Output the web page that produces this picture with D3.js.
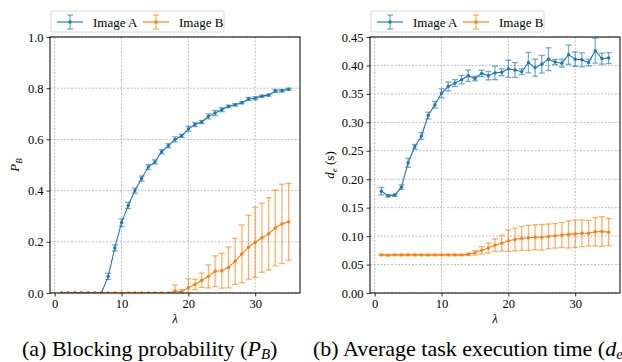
<!DOCTYPE html>
<html lang="en">
<head>
<meta charset="UTF-8">
<title>Blocking probability and task execution time</title>
<script src="https://d3js.org/d3.v7.min.js"></script>
<style>
  body { margin: 0; background: #fff; }
  svg, svg text { font-family: "Liberation Serif", "Times New Roman", Times, "DejaVu Serif", serif; }
</style>
</head>
<body>
<svg width="622" height="362"></svg>
<script>
// lambda values shared by both panels
const lambda = [1, 2, 3, 4, 5, 6, 7, 8, 9, 10, 11, 12, 13, 14, 15, 16, 17, 18,
                19, 20, 21, 22, 23, 24, 25, 26, 27, 28, 29, 30, 31, 32, 33, 34, 35]

// (a) blocking probability
const pbA = [0, 0, 0, 0, 0, 0, 0, 0.065, 0.176, 0.275, 0.342, 0.40, 0.447, 0.492, 0.512, 0.552, 0.575, 0.600,
             0.614, 0.641, 0.658, 0.668, 0.690, 0.703, 0.716, 0.729, 0.735, 0.743, 0.758, 0.761, 0.769, 0.773, 0.789, 0.790, 0.796]
const pbAErr = [0, 0, 0, 0, 0, 0, 0, 0.012, 0.012, 0.015, 0.012, 0.010, 0.010, 0.010, 0.008, 0.008, 0.008, 0.010,
                0.006, 0.010, 0.008, 0.006, 0.010, 0.010, 0.008, 0.005, 0.005, 0.004, 0.006, 0.006, 0.004, 0.004, 0.006, 0.005, 0.004]
const pbB = [0, 0, 0, 0, 0, 0, 0, 0, 0, 0, 0, 0, 0, 0, 0, 0, 0, 0.008,
             0.005, 0.021, 0.033, 0.050, 0.065, 0.085, 0.087, 0.100, 0.124, 0.153, 0.179, 0.198, 0.216, 0.231, 0.254, 0.270, 0.278]
const pbBErr = [0, 0, 0, 0, 0, 0, 0, 0, 0, 0, 0, 0, 0, 0, 0, 0, 0, 0.023,
                0.008, 0.035, 0.020, 0.028, 0.045, 0.060, 0.068, 0.080, 0.090, 0.113, 0.125, 0.137, 0.135, 0.141, 0.148, 0.155, 0.150]

// (b) average task execution time (s)
const deA = [0.179, 0.171, 0.172, 0.186, 0.229, 0.257, 0.276, 0.312, 0.331, 0.351, 0.363, 0.369, 0.375, 0.382, 0.377, 0.386, 0.382, 0.387,
             0.388, 0.394, 0.392, 0.389, 0.405, 0.396, 0.402, 0.411, 0.406, 0.404, 0.419, 0.411, 0.410, 0.405, 0.426, 0.412, 0.413]
const deAErr = [0.0065, 0.002, 0.002, 0.004, 0.008, 0.004, 0.006, 0.006, 0.006, 0.008, 0.008, 0.006, 0.0074, 0.010, 0.004, 0.0056, 0.0074, 0.012,
                0.006, 0.015, 0.013, 0.005, 0.018, 0.015, 0.0155, 0.020, 0.0045, 0.007, 0.017, 0.0126, 0.0124, 0.006, 0.022, 0.0097, 0.0097]
const deB = [0.067, 0.0665, 0.067, 0.067, 0.067, 0.067, 0.067, 0.067, 0.067, 0.067, 0.067, 0.067, 0.067, 0.068, 0.0706, 0.075, 0.079, 0.084,
             0.0876, 0.092, 0.094, 0.096, 0.097, 0.098, 0.098, 0.0995, 0.1005, 0.102, 0.103, 0.104, 0.105, 0.105, 0.1076, 0.108, 0.107]
const deBErr = [0.001, 0.001, 0.001, 0.001, 0.001, 0.001, 0.001, 0.001, 0.001, 0.001, 0.001, 0.001, 0.001, 0.002, 0.0038, 0.0065, 0.0088, 0.011,
                0.0138, 0.0188, 0.020, 0.021, 0.022, 0.022, 0.0224, 0.0218, 0.0215, 0.022, 0.0238, 0.024, 0.0235, 0.0226, 0.025, 0.026, 0.024]

const seriesNames = ['Image A', 'Image B']
const colors = ['#1f77b4', '#ff7f0e']
const xTicks = [0, 10, 20, 30]
const pbTicks = [0, 0.2, 0.4, 0.6, 0.8, 1.0]
const deTicks = [0, 0.05, 0.10, 0.15, 0.20, 0.25, 0.30, 0.35, 0.40, 0.45]

const SERIF = '"Liberation Serif", "Times New Roman", Times, "DejaVu Serif", serif'
const svg = d3.select('svg').attr('font-family', SERIF)

function drawPanel (opt) {
    const x = d3.scaleLinear().domain([-0.7, 36.7]).range([opt.left, opt.right])
    const y = d3.scaleLinear().domain(opt.yDomain).range([opt.bottom, opt.top])
    const g = svg.append('g').attr('font-family', SERIF)

    // grid
    g.append('g').selectAll('line').data(xTicks).enter().append('line')
        .attr('x1', d => x(d)).attr('x2', d => x(d))
        .attr('y1', opt.top).attr('y2', opt.bottom)
        .attr('stroke', '#b0b0b0').attr('stroke-width', 0.8).attr('stroke-dasharray', '2,1.5')
    g.append('g').selectAll('line').data(opt.yTicks).enter().append('line')
        .attr('x1', opt.left).attr('x2', opt.right)
        .attr('y1', d => y(d)).attr('y2', d => y(d))
        .attr('stroke', '#b0b0b0').attr('stroke-width', 0.8).attr('stroke-dasharray', '2,1.5')

    const clipId = 'clip' + opt.id
    svg.append('clipPath').attr('id', clipId).append('rect')
        .attr('x', opt.left).attr('y', opt.top)
        .attr('width', opt.right - opt.left).attr('height', opt.bottom - opt.top)

    const plot = g.append('g').attr('clip-path', 'url(#' + clipId + ')')
    opt.series.forEach(function (s, k) {
        const pts = lambda.map((l, i) => ({x: l, y: s.vals[i], e: s.errs[i]}))
        const sg = plot.append('g')
        // error bars
        const eb = sg.append('g').attr('stroke', colors[k]).attr('stroke-opacity', 0.6).attr('stroke-width', 1.3)
        pts.filter(p => p.e > 0).forEach(function (p) {
            const px = x(p.x)
            eb.append('line').attr('x1', px).attr('x2', px).attr('y1', y(p.y - p.e)).attr('y2', y(p.y + p.e))
            eb.append('line').attr('x1', px - 3).attr('x2', px + 3).attr('y1', y(p.y - p.e)).attr('y2', y(p.y - p.e))
            eb.append('line').attr('x1', px - 3).attr('x2', px + 3).attr('y1', y(p.y + p.e)).attr('y2', y(p.y + p.e))
        })
        sg.append('path').datum(pts)
            .attr('fill', 'none').attr('stroke', colors[k]).attr('stroke-width', 1.1)
            .attr('d', d3.line().x(d => x(d.x)).y(d => y(d.y)))
        sg.selectAll('circle').data(pts).enter().append('circle')
            .attr('cx', d => x(d.x)).attr('cy', d => y(d.y)).attr('r', 1.7)
            .attr('fill', colors[k])
    })

    // axes
    const xAxis = g.append('g').attr('transform', 'translate(0,' + opt.bottom + ')')
        .call(d3.axisBottom(x).tickValues(xTicks).tickSize(3.5).tickPadding(3).tickSizeOuter(0))
    const yAxis = g.append('g').attr('transform', 'translate(' + opt.left + ',0)')
        .call(d3.axisLeft(y).tickValues(opt.yTicks).tickFormat(d3.format(opt.fmt)).tickSize(3.5).tickPadding(3).tickSizeOuter(0))
    ;[xAxis, yAxis].forEach(a => {
        a.attr('font-family', SERIF).attr('font-size', 12.5)
        a.select('.domain').remove()
        a.selectAll('text').attr('fill', '#000')
        a.selectAll('line').attr('stroke', '#000').attr('stroke-width', 0.8)
    })
    g.append('rect').attr('x', opt.left).attr('y', opt.top)
        .attr('width', opt.right - opt.left).attr('height', opt.bottom - opt.top)
        .attr('fill', 'none').attr('stroke', '#000').attr('stroke-width', 1)

    // x label
    g.append('text').attr('x', (opt.left + opt.right) / 2).attr('y', 323)
        .attr('text-anchor', 'middle').attr('font-size', 13).attr('font-style', 'italic').text('λ')

    // y label
    const yl = g.append('text')
        .attr('transform', 'translate(' + opt.ylabelX + ',' + ((opt.top + opt.bottom) / 2) + ') rotate(-90)')
        .attr('text-anchor', 'middle').attr('font-size', 13)
    opt.ylabel(yl)

    // legend
    const lg = g.append('g').attr('transform', 'translate(' + opt.legendX + ',11)')
    lg.append('rect').attr('width', 173).attr('height', 21).attr('rx', 2)
        .attr('fill', '#fff').attr('fill-opacity', 0.8).attr('stroke', '#cccccc').attr('stroke-width', 0.8)
    seriesNames.forEach(function (name, k) {
        const ox = 6 + k * 86
        const item = lg.append('g').attr('transform', 'translate(' + ox + ',11)')
        item.append('line').attr('x1', 0).attr('x2', 26).attr('stroke', colors[k]).attr('stroke-width', 1.1)
        const eb = item.append('g').attr('stroke', colors[k]).attr('stroke-opacity', 0.6).attr('stroke-width', 1.3)
        eb.append('line').attr('x1', 13).attr('x2', 13).attr('y1', -7).attr('y2', 7)
        eb.append('line').attr('x1', 10).attr('x2', 16).attr('y1', -7).attr('y2', -7)
        eb.append('line').attr('x1', 10).attr('x2', 16).attr('y1', 7).attr('y2', 7)
        item.append('circle').attr('cx', 13).attr('r', 1.7).attr('fill', colors[k])
        item.append('text').attr('x', 36).attr('y', 4.5).attr('font-size', 13).text(name)
    })
}

drawPanel({
    id: 'a', left: 50, right: 300, top: 37, bottom: 293,
    yDomain: [0, 1], yTicks: pbTicks, fmt: '.1f', ylabelX: 19, legendX: 51,
    series: [{vals: pbA, errs: pbAErr}, {vals: pbB, errs: pbBErr}],
    ylabel: function (t) {
        t.append('tspan').attr('font-style', 'italic').text('P')
        t.append('tspan').attr('font-style', 'italic').attr('font-size', 9).attr('dy', 3).text('B')
    }
})

drawPanel({
    id: 'b', left: 370, right: 620, top: 37, bottom: 293,
    yDomain: [0, 0.45], yTicks: deTicks, fmt: '.2f', ylabelX: 334, legendX: 371,
    series: [{vals: deA, errs: deAErr}, {vals: deB, errs: deBErr}],
    ylabel: function (t) {
        t.append('tspan').attr('font-style', 'italic').text('d')
        t.append('tspan').attr('font-style', 'italic').attr('font-size', 9).attr('dy', 3).text('e')
        t.append('tspan').attr('dy', -3).text(' (s)')
    }
})

// sub-captions
const cap = svg.append('g').attr('font-family', SERIF).attr('font-size', 22).attr('fill', '#000')
const ca = cap.append('text').attr('x', 22).attr('y', 356)
ca.append('tspan').text('(a) Blocking probability (')
ca.append('tspan').attr('font-style', 'italic').text('P')
ca.append('tspan').attr('font-style', 'italic').attr('font-size', 15).attr('dy', 3).text('B')
ca.append('tspan').attr('dy', -3).text(')')
const cb = cap.append('text').attr('x', 313).attr('y', 356)
cb.append('tspan').text('(b) Average task execution time (')
cb.append('tspan').attr('font-style', 'italic').text('d')
cb.append('tspan').attr('font-style', 'italic').attr('font-size', 15).attr('dy', 3).text('e')
cb.append('tspan').attr('dy', -3).text(')')
</script>
</body>
</html>
